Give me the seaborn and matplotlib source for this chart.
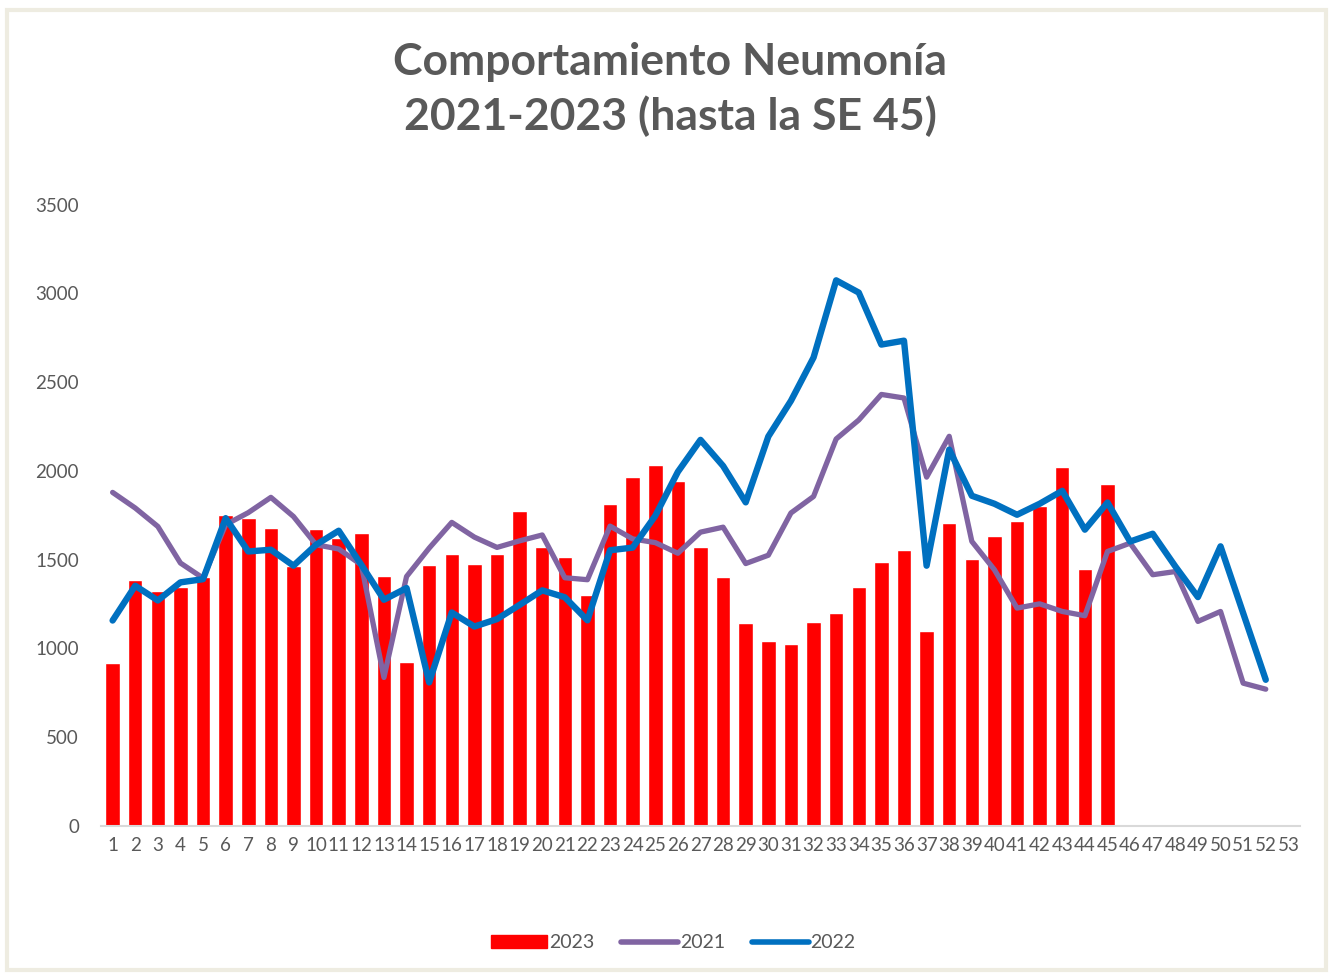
import pandas as pd
import matplotlib.pyplot as plt
import matplotlib.patches as mpatches
from matplotlib.lines import Line2D
import seaborn as sns

# Epidemiological weeks shown on the x axis
weeks = [str(w) for w in range(1, 54)]

# 2023 cases (bars, up to SE 45)
cases_2023 = [915, 1387, 1325, 1347, 1404, 1753, 1736, 1680, 1466, 1674,
              1623, 1652, 1409, 924, 1471, 1533, 1477, 1533, 1776, 1573,
              1516, 1302, 1812, 1967, 2032, 1945, 1573, 1404, 1144, 1043,
              1026, 1150, 1201, 1344, 1484, 1552, 1096, 1706, 1505, 1636,
              1715, 1800, 2022, 1449, 1926]

# 2021 cases (purple line, weeks 1-52)
cases_2021 = [1879, 1791, 1687, 1481, 1396, 1697, 1765, 1851, 1743, 1584,
              1560, 1471, 836, 1405, 1565, 1710, 1627, 1569, 1606, 1639,
              1398, 1387, 1689, 1617, 1596, 1536, 1655, 1683, 1478, 1525,
              1763, 1856, 2180, 2287, 2431, 2411, 1965, 2195, 1603, 1443,
              1227, 1251, 1208, 1184, 1546, 1593, 1415, 1433, 1152, 1208,
              804, 770]

# 2022 cases (blue line, weeks 1-52)
cases_2022 = [1157, 1353, 1270, 1372, 1390, 1734, 1546, 1556, 1466, 1584,
              1663, 1471, 1274, 1340, 808, 1202, 1123, 1165, 1245, 1327,
              1288, 1158, 1553, 1568, 1747, 1995, 2175, 2028, 1823, 2194,
              2395, 2639, 3074, 3005, 2712, 2734, 1466, 2120, 1860, 1815,
              1753, 1815, 1888, 1669, 1822, 1602, 1646, 1462, 1289, 1575,
              1199, 823]

df_bars = pd.DataFrame({'week': weeks[:len(cases_2023)], 'cases': cases_2023})
df_2021 = pd.DataFrame({'pos': range(len(cases_2021)), 'cases': cases_2021})
df_2022 = pd.DataFrame({'pos': range(len(cases_2022)), 'cases': cases_2022})

sns.set_theme(style='white')
plt.rcParams['font.family'] = ['Lato', 'DejaVu Sans']

gray = '#595959'
red = '#FF0000'
purple = '#8064A2'
blue = '#0070C0'

fig = plt.figure(figsize=(13.33, 9.75), dpi=100)
ax = fig.add_axes([0.076, 0.153, 0.899, 0.637])

# bars for 2023
sns.barplot(data=df_bars, x='week', y='cases', order=weeks, color=red,
            width=0.64, saturation=1, ax=ax)

# lines for 2021 and 2022
sns.lineplot(data=df_2021, x='pos', y='cases', color=purple, linewidth=3.8,
             ax=ax)
sns.lineplot(data=df_2022, x='pos', y='cases', color=blue, linewidth=4.6,
             ax=ax)

ax.set_xlim(-0.5, 52.5)
ax.set_ylim(0, 3500)
ax.set_yticks(range(0, 3501, 500))
ax.set_xlabel('')
ax.set_ylabel('')
ax.tick_params(axis='both', colors=gray, labelsize=13.5, length=0)
ax.tick_params(axis='y', pad=16)
ax.tick_params(axis='x', pad=8)
for side in ['top', 'right', 'left']:
    ax.spines[side].set_visible(False)
ax.spines['bottom'].set_color('#D9D9D9')
ax.spines['bottom'].set_linewidth(1.5)

fig.text(0.503, 0.908, 'Comportamiento Neumonía\n2021-2023 (hasta la SE 45)',
         ha='center', va='center', fontsize=32, fontweight='bold',
         color=gray, linespacing=1.4)

handles = [mpatches.Patch(color=red, label='2023'),
           Line2D([0], [0], color=purple, lw=4, label='2021'),
           Line2D([0], [0], color=blue, lw=4, label='2022')]
fig.legend(handles=handles, loc='center', bbox_to_anchor=(0.505, 0.033),
           ncol=3, frameon=False, fontsize=14, labelcolor=gray,
           handlelength=2.9, handletextpad=0.1, columnspacing=1.4)

# light frame around the chart area
fig.patches.append(mpatches.Rectangle((0.005, 0.005), 0.99, 0.985,
                                      transform=fig.transFigure, fill=False,
                                      edgecolor='#EEECE1', linewidth=3))

fig.savefig('out.png', dpi=100)
